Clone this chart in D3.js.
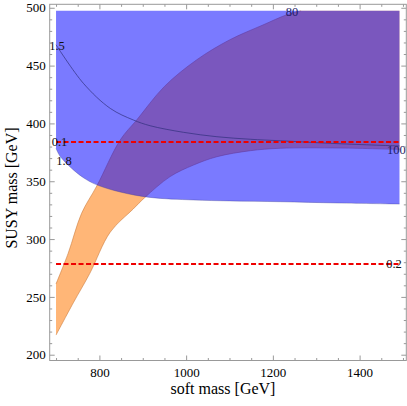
<!DOCTYPE html>
<html><head><meta charset="utf-8">
<script src="https://cdn.jsdelivr.net/npm/d3@7"></script>
<style>
body{margin:0;background:#fff}
svg{display:block}
text{font-family:"Liberation Serif","Times New Roman",serif}
</style>
</head><body>
<svg id="c" width="407" height="406"></svg>
<script>
// ---- data ----
const softRange = [700, 1492];          // soft mass extent of the regions [GeV]
const susyTop = 497.4;                  // upper edge of the regions [GeV]

// blue region: lower boundary (contour 1.8)
const blueSoft = [700, 709, 740, 771, 798, 850, 917, 1017, 1100, 1217, 1350, 1492];
const blueSusy = [378.5, 371.8, 359.8, 351.2, 346.3, 340.5, 336.0, 333.8, 333.0, 332.3, 331.2, 330.3];

// orange band: upper boundary (contour 80)
const c80Soft = [700, 728, 759, 794, 848, 886, 950, 1024, 1100, 1177, 1231, 1265];
const c80Susy = [261.2, 287.7, 322.3, 345.9, 385.7, 403.0, 432.0, 454.9, 472.2, 485.1, 493.8, 497.4];

// orange band: lower boundary (contour 100)
const c100Soft = [700, 740, 778, 825, 878, 905, 963, 1017, 1071, 1148, 1217, 1355, 1492];
const c100Susy = [217.0, 245.0, 270.4, 306.0, 326.0, 336.0, 354.0, 364.0, 371.2, 376.4, 378.5, 378.7, 377.5];

// thin contour 1.5
const c15Soft = [700, 763, 825, 878, 917, 994, 1071, 1148, 1217, 1350, 1492];
const c15Susy = [468.0, 434.7, 413.0, 403.0, 398.0, 392.3, 388.5, 386.3, 385.0, 382.5, 380.5];

// red dashed contours
const dashedLevels = ["0.1", "0.2"];
const dashedSusy = [384.0, 278.5];

// axis ticks
const xTicks = [800, 1000, 1200, 1400];
const yTicks = [200, 250, 300, 350, 400, 450, 500];
const xMinor = d3.range(700, 1501, 50);
const yMinor = d3.range(200, 501, 10);
const xTitle = "soft mass [GeV]";
const yTitle = "SUSY mass [GeV]";

// ---- layout ----
const L = 49.7, R = 406.3, T = 4.3, B = 360.5;
const x = d3.scaleLinear().domain([685.4, 1507.7]).range([L, R]);
const y = d3.scaleLinear().domain([195, 503]).range([B, T]);
const svg = d3.select("#c");

const pts = (xs, ys) => xs.map((v, i) => [v, ys[i]]);
const line = d3.line().x(d => x(d[0])).y(d => y(d[1])).curve(d3.curveCatmullRom.alpha(0.5));

// orange band
const upper = pts(c80Soft, c80Susy);
const lower = pts(c100Soft, c100Susy).reverse();
const orangePath = line(upper) + "L" + x(softRange[1]) + "," + y(susyTop) + line(lower).replace(/^M/, "L") + "Z";
svg.append("path").attr("d", orangePath).attr("fill", "#ffb677");
svg.append("path").attr("d", line(upper)).attr("fill", "none").attr("stroke", "#c8783a").attr("stroke-width", 0.7).attr("opacity", 0.8);
svg.append("path").attr("d", line(pts(c100Soft, c100Susy))).attr("fill", "none").attr("stroke", "#c8783a").attr("stroke-width", 0.7).attr("opacity", 0.8);

// blue region
const blueArea = d3.area()
  .x(d => x(d[0])).y0(d => y(d[1])).y1(y(susyTop))
  .curve(d3.curveCatmullRom.alpha(0.5));
svg.append("path").attr("d", blueArea(pts(blueSoft, blueSusy)))
  .attr("fill", "#0000ff").attr("fill-opacity", 0.52);
svg.append("path").attr("d", line(pts(blueSoft, blueSusy))).attr("fill", "none")
  .attr("stroke", "#3c3c90").attr("stroke-width", 0.6).attr("opacity", 0.6);

// thin contour 1.5
svg.append("path").attr("d", line(pts(c15Soft, c15Susy))).attr("fill", "none")
  .attr("stroke", "#2e2e7a").attr("stroke-width", 0.8).attr("opacity", 0.85);

// red dashed lines
dashedSusy.forEach(v => {
  svg.append("line").attr("x1", x(softRange[0])).attr("x2", x(1490))
    .attr("y1", y(v)).attr("y2", y(v))
    .attr("stroke", "#ee0000").attr("stroke-width", 2).attr("stroke-dasharray", "5,2.5");
});

// contour labels
const lab = (t, px, py, col) => svg.append("text").attr("x", px).attr("y", py)
  .attr("text-anchor", "middle").attr("font-size", 12.5).attr("fill", col).text(t);
lab("1.5", x(c15Soft[0]) + 1, y(c15Susy[0]) + 5, "#111");
lab("1.8", x(blueSoft[0]) + 8, y(blueSusy[0]) + 17, "#111");
lab(dashedLevels[0], x(softRange[0]) + 3.5, y(dashedSusy[0]) + 4, "#111");
lab(dashedLevels[1], x(softRange[1]) - 5.5, y(dashedSusy[1]) + 4, "#111");
lab("80", x(c80Soft[c80Soft.length - 1]) - 9, y(susyTop) + 5.5, "#1c1c66");
lab("100", x(c100Soft[c100Soft.length - 1]) - 3, y(c100Susy[c100Susy.length - 1]) + 4.5, "#1c1c66");

// frame and ticks
const axisCol = "#999";
function styleAxis(g) {
  g.select(".domain").remove();
  g.selectAll(".tick line").attr("stroke", axisCol);
  g.selectAll(".tick text").attr("fill", "#000").attr("font-size", 13)
    .attr("font-family", '"Liberation Serif","Times New Roman",serif');
}
const gB = svg.append("g").attr("transform", `translate(0,${B})`)
  .call(d3.axisBottom(x).tickValues(xTicks).tickSize(-5).tickFormat(d3.format("d")));
styleAxis(gB);
gB.selectAll(".tick text").attr("y", 16).attr("dy", null);
svg.append("g").attr("transform", `translate(0,${B})`)
  .call(d3.axisBottom(x).tickValues(xMinor.filter(v => !xTicks.includes(v))).tickSize(-2.5).tickFormat("")).call(styleAxis);
svg.append("g").attr("transform", `translate(0,${T})`)
  .call(d3.axisTop(x).tickValues(xTicks).tickSize(-5).tickFormat("")).call(styleAxis);
svg.append("g").attr("transform", `translate(0,${T})`)
  .call(d3.axisTop(x).tickValues(xMinor.filter(v => !xTicks.includes(v))).tickSize(-2.5).tickFormat("")).call(styleAxis);

const gL = svg.append("g").attr("transform", `translate(${L},0)`)
  .call(d3.axisLeft(y).tickValues(yTicks).tickSize(-5).tickPadding(4).tickFormat(d3.format("d")));
styleAxis(gL);
svg.append("g").attr("transform", `translate(${L},0)`)
  .call(d3.axisLeft(y).tickValues(yMinor.filter(v => !yTicks.includes(v))).tickSize(-2.5).tickFormat("")).call(styleAxis);
svg.append("g").attr("transform", `translate(${R},0)`)
  .call(d3.axisRight(y).tickValues(yTicks).tickSize(-5).tickFormat("")).call(styleAxis);
svg.append("g").attr("transform", `translate(${R},0)`)
  .call(d3.axisRight(y).tickValues(yMinor.filter(v => !yTicks.includes(v))).tickSize(-2.5).tickFormat("")).call(styleAxis);

svg.append("rect").attr("x", L).attr("y", T).attr("width", R - L).attr("height", B - T)
  .attr("fill", "none").attr("stroke", axisCol).attr("stroke-width", 1);

// axis titles
svg.append("text").attr("x", 223).attr("y", 394).attr("text-anchor", "middle")
  .attr("font-size", 16).attr("fill", "#000").text(xTitle);
svg.append("text").attr("transform", `translate(17,188) rotate(-90)`).attr("text-anchor", "middle")
  .attr("font-size", 16).attr("fill", "#000").text(yTitle);
</script>
</body></html>
